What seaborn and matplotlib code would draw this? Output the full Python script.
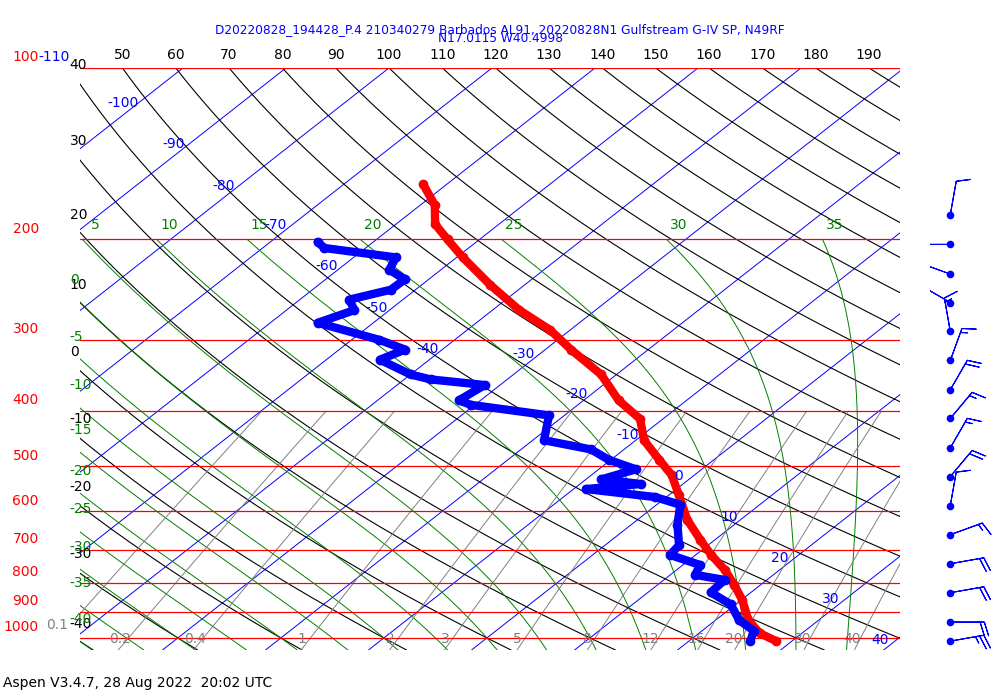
import numpy as np
import matplotlib
matplotlib.use("Agg")
import matplotlib.pyplot as plt
import seaborn as sns

sns.set_theme(style="white")
plt.rcParams['font.family'] = ['DejaVu Sans']

# ---- data ----
temp_p = [160, 174, 188, 200, 215, 240, 266, 288, 312, 345, 383, 413, 450, 487, 518, 562, 620, 673, 715, 760, 808, 858, 931, 981, 1012]
temp_t = [-62.3, -58.6, -56.2, -53.1, -49.4, -43.4, -37.4, -32, -27.5, -21.5, -16.6, -12.2, -9.2, -5.3, -2.2, 1, 4.8, 8.6, 11.5, 14.7, 17.5, 20.1, 23.2, 25.9, 28.4]
dew_p = [202, 207, 215, 226, 235, 245, 255, 266, 280, 300, 312, 325, 345, 352, 360, 383, 390, 407, 450, 467, 487, 506, 527, 537, 548, 566, 584, 633, 688, 715, 745, 775, 791, 832, 873, 931, 971, 1014]
dew_t = [-65.4, -64, -55.9, -55, -52.3, -52.4, -55.2, -53.4, -55.4, -47.3, -43.6, -44.8, -40, -37.4, -31.5, -32.1, -30.4, -21.5, -18.9, -13.2, -10.2, -6.4, -8.5, -4.1, -8.8, -1.1, 2.3, 4.5, 7.2, 7.5, 11.7, 12.4, 15.9, 16.1, 19.5, 22.3, 25, 26]
isobars = [100, 200, 300, 400, 500, 600, 700, 800, 900, 1000]
isotherms = list(range(-110, 50, 10))
iso_label_p = [None, 115, 136, 161, 189, 223, 264, 311, 318, 373, 440, 519, 613, 724, 853, 1010]
theta_c = list(range(-40, 200, 10))
moist_start = list(range(-40, 40, 5))
moist_labels = [5, 10, 15, 20, 25, 30, 35]
mix_ratios = [0.1, 0.2, 0.4, 1, 2, 3, 5, 8, 12, 16, 20, 30, 40]
wind_p = [181, 204, 230, 258, 290, 326, 367, 412, 464, 521, 586, 659, 741, 833, 938, 1013]
wind_dir = [10, 270, 290, 300, 350, 20, 30, 40, 30, 40, 10, 70, 80, 80, 90, 80]
wind_spd = [10, 30, 15, 10, 15, 15, 20, 15, 15, 20, 10, 15, 20, 20, 20, 25]

SK = 70.5
XMIN, XMAX = -39.5, 40.1
def X(t, p):
    return np.asarray(t) + SK * np.log10(1000.0 / np.asarray(p, dtype=float))

fig = plt.figure(figsize=(10, 7), dpi=100)
ax = fig.add_axes([0.08, 0.0714, 0.82, 0.8316])
ax.set_yscale('log')
ax.set_ylim(1050, 100)
ax.set_xlim(XMIN, XMAX)
ax.axis('off')

pp = np.logspace(np.log10(100), np.log10(1050), 200)

# isotherms
for t in isotherms:
    ax.plot(X(np.full_like(pp, t), pp), pp, color='blue', lw=0.7)
for t, lp in zip(isotherms, iso_label_p):
    if lp:
        ax.text(X(t, lp) - 1.5, lp, str(t), color='blue', fontsize=10, va='center', ha='center', clip_on=True)

# dry adiabats
for th in theta_c:
    tt = (th + 273.15) * (pp / 1000.0) ** 0.286 - 273.15
    ax.plot(X(tt, pp), pp, color='black', lw=0.8)
    xt = X(tt[0], 100)
    if XMIN <= xt <= XMAX:
        ax.text(xt, 97.5, str(th), ha='center', va='bottom', fontsize=10, color='black')
    else:
        xs = X(tt, pp)
        idx = np.where(np.diff(np.sign(xs - XMIN)))[0]
        if len(idx):
            ax.text(XMIN - 1, pp[idx[0]] * 0.96, str(th), ha='left', va='bottom', fontsize=10, color='black', clip_on=False)

# moist adiabats (pseudo-adiabats starting at 1000 hPa)
def moist(t0):
    eps, Rd, cp, Lv = 0.622, 287.0, 1004.0, 2.5e6
    def integ(ps):
        T = t0 + 273.15
        out = []
        p_prev = ps[0]
        for p in ps:
            dp = p - p_prev
            Tc = T - 273.15
            es = 6.112 * np.exp(17.67 * Tc / (Tc + 243.5))
            rs = eps * es / (p - es)
            dTdp = (Rd * T + Lv * rs) / (p * (cp + Lv**2 * rs * eps / (Rd * T**2)))
            T = T + dTdp * dp
            out.append(T - 273.15)
            p_prev = p
        return np.array(out)
    up = np.linspace(1000, 200, 400)
    dn = np.linspace(1000, 1050, 30)
    tu = integ(up)
    td = integ(dn)
    return np.concatenate([dn[::-1], up]), np.concatenate([td[::-1], tu])

for t0 in moist_start:
    ps, tt = moist(t0)
    ax.plot(X(tt, ps), ps, color='green', lw=0.7)
    if t0 in moist_labels:
        ax.text(X(tt[-1], 200) + 1.2, 194, str(t0), color='green', fontsize=10, ha='center', va='bottom')
    elif t0 <= 0:
        xs = X(tt, ps)
        ax.text(XMIN - 1, ps[np.argmin(np.abs(xs - XMIN))] * 0.94, str(t0), color='green', fontsize=10, ha='left', va='bottom', clip_on=False)

# mixing ratio lines
pm = np.logspace(np.log10(400), np.log10(1050), 100)
for w in mix_ratios:
    wk = w / 1000.0
    es = wk * pm / (0.622 + wk)
    le = np.log(es / 6.112)
    tt = 243.5 * le / (17.67 - le)
    ax.plot(X(tt, pm), pm, color='gray', lw=0.7)
    es1 = wk * 1000 / (0.622 + wk)
    l1 = np.log(es1 / 6.112)
    t1 = 243.5 * l1 / (17.67 - l1)
    if X(t1, 1000) > XMIN + 1:
        ax.text(X(t1, 1000) - 0.8, 1005, str(w), color='gray', fontsize=10, ha='center', va='center', clip_on=True)
    else:
        ax.text(XMIN - 1.2, 1000 * 0.975, str(w), color='gray', fontsize=10, ha='right', va='bottom', clip_on=False)

# isobars
for p in isobars:
    ax.plot([XMIN, XMAX], [p, p], color='red', lw=0.9)
    ax.text(XMIN - 4, p * 0.985, str(p), color='red', fontsize=10, ha='right', va='bottom', clip_on=False)
ax.text(XMIN - 4, 98.5, '-110', color='blue', fontsize=10, ha='left', va='bottom', clip_on=False)

# profiles
ax.plot(X(temp_t, temp_p), temp_p, color='red', lw=6, marker='o', ms=6, solid_capstyle='round')
ax.plot(X(dew_t, dew_p), dew_p, color='blue', lw=6, marker='o', ms=6, solid_capstyle='round')

# wind barbs
ax2 = fig.add_axes([0.93, 0.0714, 0.07, 0.8316])
ax2.set_yscale('log')
ax2.set_ylim(1050, 100)
ax2.set_xlim(0, 1)
ax2.axis('off')
d = np.radians(wind_dir)
u = -np.array(wind_spd) * np.sin(d)
v = -np.array(wind_spd) * np.cos(d)
ax2.barbs(np.full(len(wind_p), 0.29), wind_p, u, v, color='blue', length=7, linewidth=0.8)
ax2.scatter(np.full(len(wind_p), 0.29), wind_p, color='blue', s=20, zorder=3)

fig.text(0.5, 0.958, 'D20220828_194428_P.4 210340279 Barbados AL91, 20220828N1 Gulfstream G-IV SP, N49RF',
         color='blue', ha='center', va='center', fontsize=8.7)
fig.text(0.5, 0.945, 'N17.0115 W40.4998', color='blue', ha='center', va='center', fontsize=8.7)
fig.text(0.003, 0.025, 'Aspen V3.4.7, 28 Aug 2022  20:02 UTC', color='black', ha='left', va='center', fontsize=10)

fig.savefig('out.png', dpi=100)
